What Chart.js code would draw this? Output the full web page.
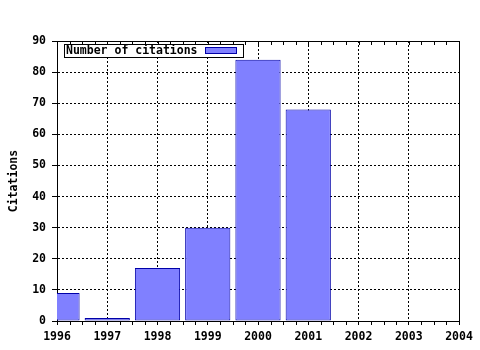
<!DOCTYPE html>
<html><head><meta charset="utf-8">
<script src="https://cdn.jsdelivr.net/npm/chart.js@4/dist/chart.umd.min.js"></script>
<style>html,body{margin:0;padding:0;background:#fff}canvas{display:block}</style>
</head><body>
<canvas id="c" width="480" height="350"></canvas>
<script>
const years = [1996, 1997, 1998, 1999, 2000, 2001];
const citations = [9, 1, 17, 30, 84, 68];
const seriesLabel = 'Number of citations';
const yTitle = 'Citations';
const xRange = [1996, 2004];
const yRange = [0, 90];
const yStep = 10;
const xMinorStep = 0.25;

const FONT = {family: '"DejaVu Sans Mono", monospace', size: 11.5, weight: 'bold'};
const FILL = '#8080ff';
const EDGE = '#0000a8';

const framePlugin = {
  id: 'frame',
  afterDatasetsDraw(chart) {
    const {ctx, chartArea: a, scales: {x}} = chart;
    ctx.save();
    ctx.strokeStyle = '#000';
    ctx.lineWidth = 1;
    ctx.setLineDash([]);
    ctx.beginPath();
    const top = Math.round(a.top) + 0.5;
    const right = Math.round(a.right) + 0.5;
    ctx.moveTo(a.left, top); ctx.lineTo(right, top);
    ctx.moveTo(right, a.top); ctx.lineTo(right, a.bottom);
    for (let v = xRange[0]; v <= xRange[1] + 1e-9; v += xMinorStep) {
      const px = Math.round(x.getPixelForValue(v)) + 0.5;
      ctx.moveTo(px, a.top); ctx.lineTo(px, a.top + 4);
      if (Math.abs(v - Math.round(v)) > 1e-6) {
        ctx.moveTo(px, a.bottom); ctx.lineTo(px, a.bottom + 4);
      }
    }
    ctx.stroke();

    // legend box
    ctx.font = 'bold 11.5px "DejaVu Sans Mono", monospace';
    const label = chart.data.datasets[0].label;
    const tw = ctx.measureText(label).width;
    const bx = Math.round(a.left) + 7, by = Math.round(a.top) + 3;
    const tx = bx + 2;
    const sx = Math.round(tx + tw + 7), sw = 31, sh = 6;
    const bw = sx + sw + 7 - bx, bh = 13;
    ctx.fillStyle = '#fff';
    ctx.fillRect(bx, by, bw, bh);
    ctx.strokeStyle = '#000';
    ctx.strokeRect(bx + 0.5, by + 0.5, bw, bh);
    ctx.fillStyle = '#000';
    ctx.textBaseline = 'middle';
    ctx.textAlign = 'left';
    ctx.fillText(label, tx, by + bh / 2 + 1);
    ctx.fillStyle = chart.data.datasets[0].backgroundColor;
    ctx.fillRect(sx, by + 3, sw, sh);
    ctx.strokeStyle = chart.data.datasets[0].borderColor;
    ctx.strokeRect(sx + 0.5, by + 3.5, sw, sh);
    ctx.restore();
  }
};

new Chart(document.getElementById('c'), {
  type: 'bar',
  data: {
    datasets: [{
      label: seriesLabel,
      data: years.map((yr, i) => ({x: yr, y: citations[i]})),
      backgroundColor: FILL,
      borderColor: EDGE,
      borderWidth: 1,
      borderSkipped: false,
      barPercentage: 0.9,
      categoryPercentage: 1.0
    }]
  },
  options: {
    responsive: false,
    animation: false,
    devicePixelRatio: 1,
    layout: {padding: {top: 41, right: 21, bottom: 0, left: 0}},
    plugins: {legend: {display: false}, tooltip: {enabled: false}},
    scales: {
      x: {
        type: 'linear',
        offset: false,
        min: xRange[0], max: xRange[1],
        afterFit(s) { s.height = 29; },
        ticks: {
          stepSize: 1, autoSkip: false, maxRotation: 0, padding: 5,
          color: '#000', font: FONT,
          callback: v => String(v)
        },
        grid: {
          offset: false,
          color: '#000', lineWidth: 1, tickLength: 4, tickColor: '#000',
          tickBorderDash: []
        },
        border: {display: true, color: '#000', width: 1, dash: [2, 2]}
      },
      y: {
        min: yRange[0], max: yRange[1],
        afterFit(s) { s.width = 57; },
        ticks: {stepSize: yStep, padding: 6, color: '#000', font: FONT},
        grid: {
          color: '#000', lineWidth: 1, tickLength: 5, tickColor: '#000',
          tickBorderDash: []
        },
        border: {display: true, color: '#000', width: 1, dash: [2, 2]},
        title: {display: true, text: yTitle, color: '#000', font: FONT, padding: {top: 7, bottom: 0}}
      }
    }
  },
  plugins: [framePlugin]
});
</script>
</body></html>
